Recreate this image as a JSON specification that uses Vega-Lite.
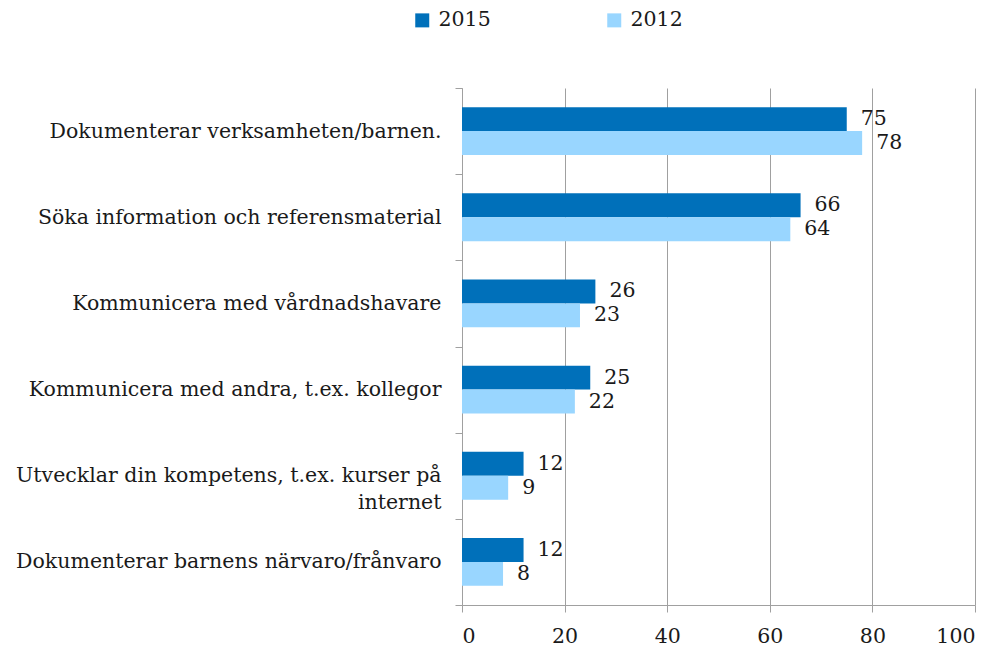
{
  "$schema": "https://vega.github.io/schema/vega-lite/v6.json",
  "autosize": {"type": "none"},
  "padding": {"left": 462, "top": 88, "right": 23, "bottom": 46},
  "width": 513,
  "height": 517,
  "background": "white",
  "data": {"values": [
    {"category": "Dokumenterar verksamheten/barnen.", "year": "2015", "value": 75},
    {"category": "Dokumenterar verksamheten/barnen.", "year": "2012", "value": 78},
    {"category": "Söka information och referensmaterial", "year": "2015", "value": 66},
    {"category": "Söka information och referensmaterial", "year": "2012", "value": 64},
    {"category": "Kommunicera med vårdnadshavare", "year": "2015", "value": 26},
    {"category": "Kommunicera med vårdnadshavare", "year": "2012", "value": 23},
    {"category": "Kommunicera med andra, t.ex. kollegor", "year": "2015", "value": 25},
    {"category": "Kommunicera med andra, t.ex. kollegor", "year": "2012", "value": 22},
    {"category": "Utvecklar din kompetens, t.ex. kurser på internet", "year": "2015", "value": 12},
    {"category": "Utvecklar din kompetens, t.ex. kurser på internet", "year": "2012", "value": 9},
    {"category": "Dokumenterar barnens närvaro/frånvaro", "year": "2015", "value": 12},
    {"category": "Dokumenterar barnens närvaro/frånvaro", "year": "2012", "value": 8}
  ]},
  "encoding": {
    "y": {
      "field": "category", "type": "nominal", "sort": null, "title": null,
      "scale": {"paddingInner": 0, "paddingOuter": 0},
      "axis": {
        "tickBand": "extent", "domainColor": "#A0A0A0", "tickColor": "#A0A0A0",
        "tickSize": 7, "labelPadding": 14, "labelFont": "DejaVu Serif", "labelFontSize": 20.5,
        "labelColor": "#1a1a1a", "labelLimit": 460, "labelLineHeight": 27,
        "labelExpr": "datum.label == 'Utvecklar din kompetens, t.ex. kurser på internet' ? ['Utvecklar din kompetens, t.ex. kurser på', 'internet'] : datum.label"
      }
    },
    "yOffset": {"field": "year", "type": "nominal", "sort": ["2015", "2012"], "scale": {"paddingInner": 0, "paddingOuter": 0.8}},
    "x": {
      "field": "value", "type": "quantitative", "title": null,
      "scale": {"domain": [0, 100], "nice": false},
      "axis": {
        "values": [0, 20, 40, 60, 80, 100], "grid": true, "gridColor": "#A0A0A0",
        "domainColor": "#A0A0A0", "tickColor": "#A0A0A0", "tickSize": 7,
        "labelFont": "DejaVu Serif", "labelFontSize": 20.5, "labelColor": "#1a1a1a", "labelPadding": 14
      }
    }
  },
  "layer": [
    {
      "mark": {"type": "bar"},
      "encoding": {
        "color": {
          "field": "year", "type": "nominal", "sort": ["2015", "2012"],
          "scale": {"domain": ["2015", "2012"], "range": ["#0070BA", "#99D6FF"]},
          "legend": {
            "title": null, "orient": "none", "direction": "horizontal",
            "legendX": -50, "legendY": -78,
            "symbolType": "square", "symbolSize": 196, "symbolStrokeWidth": 0,
            "labelFont": "DejaVu Serif", "labelFontSize": 20.5, "labelColor": "#1a1a1a",
            "labelOffset": 6, "columnPadding": 113
          }
        }
      }
    },
    {
      "mark": {"type": "text", "align": "left", "baseline": "middle", "dx": 14, "font": "DejaVu Serif", "fontSize": 20.5, "color": "#1a1a1a"},
      "encoding": {"text": {"field": "value", "type": "quantitative"}}
    }
  ],
  "config": {"view": {"stroke": null}}
}
